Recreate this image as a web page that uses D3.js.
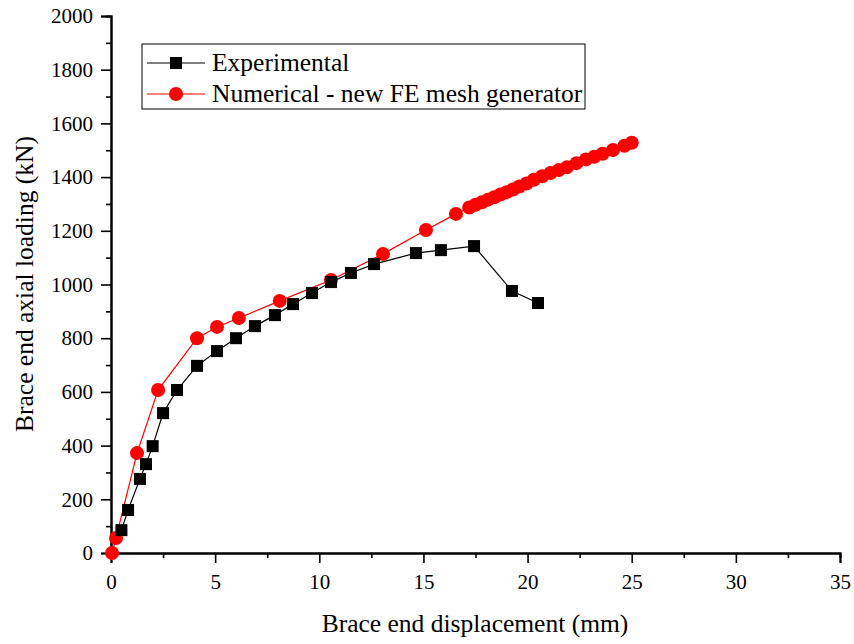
<!DOCTYPE html>
<html>
<head>
<meta charset="utf-8">
<style>
body { margin: 0; background: #fff; }
svg text { font-family: "Liberation Serif", "Times New Roman", serif !important; }
</style>
</head>
<body>
<script src="https://cdn.jsdelivr.net/npm/d3@7"></script>
<script>
// experimental test (displacement mm, load kN)
var expX = [0.5, 0.82, 1.39, 1.68, 2.0, 2.5, 3.17, 4.13, 5.09, 6.0, 6.91, 7.87, 8.74, 9.65, 10.56, 11.52, 12.63, 14.64, 15.84, 17.43, 19.25, 20.5];
var expY = [85, 160, 276, 331, 398, 521, 607, 697, 752, 800, 845, 886, 927, 968, 1009, 1043, 1076, 1117, 1128, 1143, 976, 931];

// numerical model
var numX = [0.05, 0.24, 1.25, 2.26, 4.13, 5.09, 6.14, 8.1, 10.56, 13.06, 15.12, 16.56,
            17.2, 17.5, 17.8, 18.1, 18.4, 18.7, 19.0, 19.3, 19.6, 19.95, 20.3, 20.7, 21.1, 21.5, 21.9, 22.35, 22.8, 23.2, 23.6, 24.1, 24.65, 25.0];
var numY = [0, 56, 372, 607, 800, 842, 875, 939, 1017, 1114, 1203, 1263,
            1287, 1297, 1306, 1316, 1325, 1335, 1344, 1354, 1365, 1376, 1390, 1403, 1415, 1426, 1437, 1452, 1466, 1476, 1487, 1501, 1517, 1528];

var xTicks = [0, 5, 10, 15, 20, 25, 30, 35];
var yTicks = [0, 200, 400, 600, 800, 1000, 1200, 1400, 1600, 1800, 2000];

var seriesNames = ["Experimental", "Numerical - new FE mesh generator"];

var W = 854, H = 644;
var svg = d3.select("body").append("svg").attr("width", W).attr("height", H);

var x = d3.scaleLinear().domain([0, 35]).range([111, 840]);
var y = d3.scaleLinear().domain([0, 2000]).range([553, 16]);

var exp = expX.map((d, i) => [d, expY[i]]);
var num = numX.map((d, i) => [d, numY[i]]);

// axes
svg.append("g").attr("transform", "translate(0,553)")
    .call(d3.axisBottom(x).tickValues(xTicks).tickSize(10).tickPadding(11).tickFormat(d3.format("d")));
svg.append("g").attr("transform", "translate(0,553)")
    .call(d3.axisBottom(x).tickValues(d3.range(2.5, 35, 5)).tickSize(5).tickFormat(""));
svg.append("g").attr("transform", "translate(111,0)")
    .call(d3.axisLeft(y).tickValues(yTicks).tickSize(10).tickPadding(8).tickFormat(d3.format("d")));
svg.append("g").attr("transform", "translate(111,0)")
    .call(d3.axisLeft(y).tickValues(d3.range(100, 2000, 200)).tickSize(5).tickFormat(""));

svg.selectAll(".domain").attr("stroke", "#000").attr("stroke-width", 2);
svg.selectAll(".tick line").attr("stroke", "#000").attr("stroke-width", 1.6);
svg.selectAll(".tick text").style("font-size", "21px").attr("fill", "#000");

// axis titles
svg.append("text").attr("x", 475).attr("y", 632).attr("text-anchor", "middle")
    .style("font-size", "25.5px").text("Brace end displacement (mm)");
svg.append("text").attr("transform", "translate(33,284) rotate(-90)").attr("text-anchor", "middle")
    .style("font-size", "25.5px").text("Brace end axial loading (kN)");

var line = d3.line().x(d => x(d[0])).y(d => y(d[1]));

// numerical series
svg.append("path").datum(num).attr("d", line).attr("fill", "none").attr("stroke", "#ff0000").attr("stroke-width", 1.2);
svg.selectAll(".num").data(num).join("circle").attr("class", "num")
    .attr("cx", d => x(d[0])).attr("cy", d => y(d[1])).attr("r", 7).attr("fill", "#ff0000");

// experimental series
svg.append("path").datum(exp).attr("d", line).attr("fill", "none").attr("stroke", "#000").attr("stroke-width", 1.2);
svg.selectAll(".exp").data(exp).join("rect").attr("class", "exp")
    .attr("x", d => x(d[0]) - 6).attr("y", d => y(d[1]) - 6).attr("width", 12).attr("height", 12).attr("fill", "#000");

// legend
var lg = svg.append("g");
lg.append("rect").attr("x", 142).attr("y", 44).attr("width", 443).attr("height", 65)
    .attr("fill", "#fff").attr("stroke", "#000").attr("stroke-width", 1);
var rows = [{ c: "#000", shape: "sq", yy: 63 }, { c: "#ff0000", shape: "ci", yy: 94 }];
rows.forEach(function (r, i) {
    lg.append("line").attr("x1", 147).attr("x2", 205).attr("y1", r.yy).attr("y2", r.yy)
        .attr("stroke", r.c).attr("stroke-width", 1.2);
    if (r.shape == "sq")
        lg.append("rect").attr("x", 170).attr("y", r.yy - 6).attr("width", 12).attr("height", 12).attr("fill", r.c);
    else
        lg.append("circle").attr("cx", 176).attr("cy", r.yy).attr("r", 7).attr("fill", r.c);
    lg.append("text").attr("x", 212).attr("y", r.yy + 8).style("font-size", "25.5px").text(seriesNames[i]);
});
</script>
</body>
</html>
